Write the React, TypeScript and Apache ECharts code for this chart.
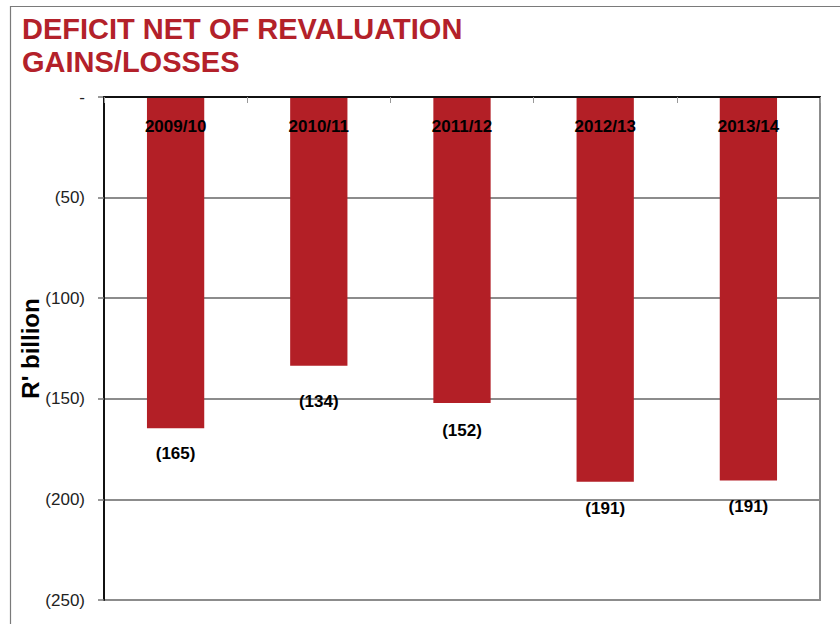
import React, { useEffect, useRef } from "react";
import * as echarts from "echarts";

const categories = ["2009/10", "2010/11", "2011/12", "2012/13", "2013/14"];
const deficitValues = [-164.6, -133.6, -152.1, -191.2, -190.6];
const labelDistances = [17, 27, 19, 18, 18];
const yTickValues = [0, -50, -100, -150, -200, -250];

const titleText = "DEFICIT NET OF REVALUATION\nGAINS/LOSSES";
const axisName = "R' billion";

export default function App() {
  const ref = useRef<HTMLDivElement>(null);
  useEffect(() => {
    if (!ref.current) return;
    const chart = echarts.init(ref.current, null, { renderer: "svg" });
    const font = "'Liberation Sans', Arial, sans-serif";
    chart.setOption({
      animation: false,
      backgroundColor: "#ffffff",
      title: {
        text: titleText,
        left: 22,
        top: 12,
        padding: 0,
        textStyle: {
          color: "#B3212A",
          fontSize: 29,
          fontWeight: "bold",
          fontFamily: font,
          lineHeight: 33,
        },
      },
      graphic: [
        {
          type: "rect",
          shape: { x: 10.5, y: 6.5, width: 900, height: 700 },
          style: { fill: "none", stroke: "#7a7a7a", lineWidth: 1.2 },
          silent: true,
        },
      ],
      grid: {
        left: 104,
        top: 97,
        right: 20,
        bottom: 24,
        show: true,
        borderColor: "#8c8c8c",
        borderWidth: 2,
      },
      xAxis: {
        type: "category",
        data: categories,
        position: "top",
        axisLine: { show: true, lineStyle: { color: "#111", width: 2 } },
        axisTick: { show: true, inside: true, length: 6, lineStyle: { color: "#999", width: 1 } },
        axisLabel: {
          inside: true,
          margin: 21,
          color: "#000",
          fontSize: 17,
          fontWeight: "bold",
          fontFamily: font,
        },
        z: 10,
      },
      yAxis: {
        type: "value",
        min: -250,
        max: 0,
        interval: 50,
        name: axisName,
        nameLocation: "middle",
        nameGap: 62,
        nameMoveOverlap: false,
        nameRotate: 90,
        nameTextStyle: {
          color: "#000",
          fontSize: 24,
          fontWeight: "bold",
          fontFamily: font,
        },
        axisLine: { show: true, lineStyle: { color: "#111", width: 2 } },
        axisTick: { show: true, length: 6, lineStyle: { color: "#777", width: 1.5 } },
        axisLabel: {
          margin: 19,
          color: "#222",
          fontSize: 17,
          fontFamily: font,
          customValues: yTickValues,
          formatter: (v: number) => (v === 0 ? "-" : `(${Math.round(-v)})`),
        },
        splitLine: { show: true, lineStyle: { color: "#8c8c8c", width: 2 } },
      },
      series: [
        {
          type: "bar",
          data: deficitValues.map((v, i) => ({
            value: v,
            label: { distance: labelDistances[i] },
          })),
          barWidth: "40%",
          itemStyle: { color: "#B31F26" },
          label: {
            show: true,
            position: "bottom",
            distance: 17,
            color: "#000",
            fontSize: 17,
            fontWeight: "bold",
            fontFamily: font,
            formatter: (p: any) => `(${Math.round(-p.value)})`,
          },
          z: 2,
        },
      ],
    });
    return () => chart.dispose();
  }, []);
  return (
    <div
      ref={ref}
      style={{ position: "fixed", left: 0, top: 0, width: 840, height: 624 }}
    />
  );
}
